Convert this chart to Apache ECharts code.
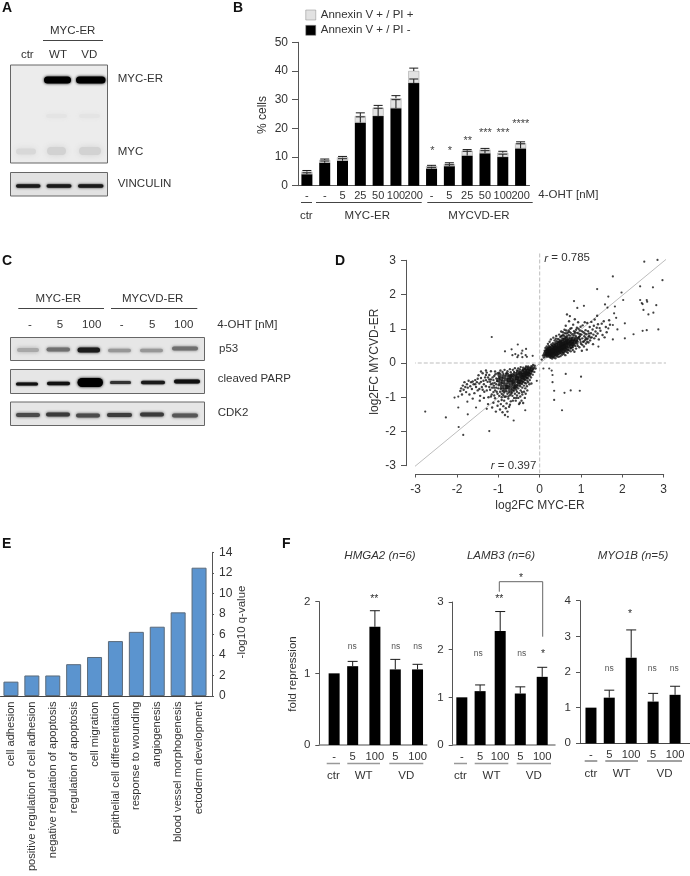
<!DOCTYPE html>
<html><head><meta charset="utf-8">
<style>html,body{margin:0;padding:0;background:#fff}#c{width:690px;height:876px}</style>
<script src="https://cdn.jsdelivr.net/npm/echarts@6/dist/echarts.min.js"></script>
</head><body><div id="c"></div>
<script>
// ---- Panel B data
const bCategories = ['-','-','5','25','50','100','200','-','5','25','50','100','200'];
const bEarly = [4,8,8.7,22,24.3,27,35.8,6,6.8,10.5,11.3,10,13];
const bLate = [0.9,1,1.2,2.3,2.9,3.5,4.2,0.8,0.8,1.7,1.3,1.5,1.8];
const bEarlyErr = [0.5,0.6,0.7,2,2.7,3,1.4,0.4,0.5,1.5,0.9,1,1.6];
const bLateErr = [0.4,0.3,0.3,1.1,0.8,0.9,1,0.3,0.4,0.4,0.4,0.5,0.5];
// ---- Panel E data
const eTerms = ['cell adhesion','positive regulation of cell adhesion','negative regulation of apoptosis','regulation of apoptosis','cell migration','epithelial cell differentiation','response to wounding','angiogenesis','blood vessel morphogenesis','ectoderm development'];
const eValues = [1.4,2.0,2.0,3.1,3.8,5.35,6.25,6.75,8.15,12.5];
// ---- Panel F data
const fLabels = ['-','5','100','5','100'];
const hmga2 = [1,1.1,1.65,1.055,1.055];
const hmga2Top = [1,1.167,1.874,1.195,1.126];
const lamb3 = [1,1.13,2.39,1.08,1.43];
const lamb3Top = [1,1.26,2.8,1.22,1.63];
const myo1b = [1,1.28,2.4,1.17,1.36];
const myo1bTop = [1,1.49,3.18,1.4,1.6];
// ---- Panel D data
const scatterSparse = [[2.85,3.01],[2.53,2.96],[2.97,2.42],[1.77,2.53],[1.39,2.16],[2.43,2.24],[2.74,2.21],[1.98,2.06],[1.66,1.94],[.83,1.81],[1.07,1.67],[.91,1.61],[1.58,1.71],[2.02,1.84],[2.43,1.84],[2.47,1.75],[2.59,1.84],[2.6,1.79],[2.49,1.72],[2.82,1.69],[2.51,1.55],[2.75,1.47],[2.63,1.42],[1.64,1.62],[1.82,1.65],[1.8,1.45],[1.85,1.32],[2.06,1.16],[1.77,1.11],[1.88,.98],[2.49,.94],[2.59,.96],[2.87,.98],[2.27,.84],[2.06,.72],[1.77,.69],[1.42,.48],[1.66,1.01],
[.23,-.16],[.29,-.22],[.31,-.35],[.31,-.56],[.35,-.81],[.35,-1.08],[.54,-1.38],[.6,-.87],[.75,-.8],[.97,-.81],[1,-.4],[.63,-.32],[.09,-.16],[-.07,-.52],
[-1.16,.76],[-.53,.54],[-.84,.34],[-.68,.4],[-.59,.26],[-.66,.23],[-.52,.22],[-.44,.28],[-.33,.41],[-.42,.36],[-.34,.23],[-.42,.17],[-.31,.18],[-.17,.21],[-.54,.17],
[-2.77,-1.42],[-2.27,-1.59],[-1.96,-1.87],[-1.85,-2.1],[-1.22,-1.99],[-2.06,-1.01],[-1.97,-.98],[-1.97,-1.3],[-1.75,-1.13],[-1.74,-1.5],[-1.54,-1.3],[-1.28,-1.34],[-.63,-1.68],[-.77,-1.57],[-.35,-1.38]];
const scatterUpperOuter = [[.05,.1],[.1,.16],[.08,.22],[.12,.36],[.14,.44],[.17,.48],[.2,.56],[.24,.62],[.26,.15],[.3,.13],[.34,.16],[.38,.14],[.27,.69],[.33,.74],[.36,.66],[.4,.79],[.42,.19],[.46,.18],[.5,.2],[.44,.7],[.47,.83],[.5,.76],[.52,.92],[.54,.24],[.58,.26],[.62,.23],[.57,.82],[.6,.97],[.63,1.09],[.65,.86],[.66,1.42],[.68,.3],[.71,1.22],[.72,.91],[.73,1.37],[.75,.34],[.77,1.02],[.79,.84],[.8,.38],[.81,1.12],[.83,.93],[.84,.33],[.85,1.28],[.87,.79],[.88,.42],[.9,1.03],[.91,.88],[.92,.5],[.93,1.19],[.95,.76],[.96,.46],[.97,.95],[.98,.68],[.99,1.06],[1,.56],[1.01,.83],[1.02,.36],[1.03,.72],[1.04,1.1],[1.05,.62],[1.06,.9],[1.07,.48],[1.08,.78],[1.09,1.19],[1.1,.67],[1.11,.96],[1.12,.57],[1.13,.84],[1.14,.39],[1.15,1.17],[1.16,.71],[1.17,.93],[1.18,.6],[1.2,.79],[1.21,1.05],[1.22,.66],[1.24,.87],[1.25,1.2],[1.26,.75],[1.28,.98],[1.29,.55],[1.3,.83],[1.31,1.09],[1.32,.72],[1.33,1.27],[1.35,.92],[1.36,.79],[1.38,1.03],[1.39,1.38],[1.4,.86],[1.41,1.13],[1.43,.69],[1.45,1.02],[1.47,.94],[1.5,1.15],[1.52,.82],[1.55,1.22],[1.57,.75],[1.6,1.05],[1.62,.9],[1.68,1.25],[1.7,1.12],[.7,.95],[.74,.8],[.78,.74],[.82,.8],[.86,.9],[.9,.66],[.94,.86],[.98,.84],[.66,.78],[.7,.82],[.6,.78],[.55,.72],[.45,.62],[.38,.6],[.32,.58],[.28,.54],[.22,.5],[.18,.42],[.92,.62],[.96,.7],[.86,.5],[.8,.46],[.74,.42],[.68,.38],[.62,.35],[.56,.3],[.5,.28],[.44,.25],[.38,.22],[.32,.18],[.27,.19],
[.41,.64],[.48,.68],[.53,.66],[.58,.71],[.63,.75],[.67,.69],[.72,.74],[.77,.68],[.83,.66],[.89,.75],[.93,.73],[.99,.61],[1.03,.53],[1.07,.63],[1.11,.74],[1.15,.62],[1.19,.86],[1.23,.74],[.87,.6],[.91,.56],[.81,.52],[.76,.44],[.71,.37],[.65,.33],[.59,.31],[.54,.8],[.49,.63],[.43,.57],[.36,.54],[.3,.51],[.25,.47],[.21,.44],[.16,.38],[.61,.87],[.68,.89],[.75,.88],[.84,.86],[.97,.78],[1.02,.93],[1.09,.86],[1.13,.7],[1.18,.77],[.52,.78],[.39,.71],[.34,.47],[.56,.9],[.64,.95],[.74,1.0],[.88,.97],[.94,1.0]];
const scatterUpperCore = [[.13,.27],[.15,.22],[.16,.33],[.18,.27],[.19,.36],[.2,.22],[.21,.31],[.22,.41],[.23,.26],[.24,.35],[.25,.21],[.26,.3],[.27,.41],[.28,.25],[.29,.36],[.3,.46],[.31,.29],[.32,.22],[.33,.39],[.34,.33],[.35,.5],[.36,.25],[.37,.43],[.38,.3],[.39,.37],[.4,.53],[.41,.26],[.42,.46],[.43,.34],[.44,.4],[.45,.57],[.46,.3],[.47,.49],[.48,.37],[.49,.44],[.5,.6],[.51,.33],[.52,.52],[.53,.41],[.54,.47],[.55,.63],[.56,.36],[.57,.55],[.58,.44],[.59,.5],[.6,.67],[.61,.4],[.62,.58],[.63,.47],[.64,.53],[.65,.7],[.66,.43],[.68,.6],[.7,.5],[.72,.56],[.74,.68],[.76,.49],[.78,.62],[.8,.55],[.82,.7],[.85,.6],[.88,.68],[.27,.33],[.35,.38],[.42,.38],[.5,.45],[.57,.48],[.64,.6],[.7,.63],[.76,.6],[.31,.37],[.38,.45],[.46,.42],[.53,.56]];
const scatterLowerOuter = [[-.12,-.08],[-.1,-.16],[-.14,-.14],[-.16,-.06],[-.18,-.12],[-.2,-.09],[-.13,-.26],[-.17,-.34],[-.21,-.42],[-.24,-.5],[-.28,-.56],[-.25,-.62],[-.31,-.68],[-.2,-.6],[-.35,-.74],[-.3,-.8],[-.38,-.84],[-.34,-.9],[-.42,-.92],[-.36,-1.02],[-.44,-1.1],[-.4,-1.17],[-.48,-1.16],[-.52,-1.02],[-.5,-1.2],[-.55,-.95],[-.58,-1.1],[-.62,-1.02],[-.66,-.96],[-.7,-1.12],[-.72,-1.22],[-.74,-1.28],[-.76,-1.04],[-.78,-1.42],[-.8,-1.18],[-.82,-1.32],[-.84,-1.52],[-.86,-1.1],[-.88,-1.26],[-.9,-1.44],[-.92,-1.0],[-.94,-1.2],[-.96,-1.36],[-.98,-.96],[-1,-1.12],[-1.02,-1.25],[-1.04,-.84],[-1.06,-1.42],[-1.08,-1.03],[-1.1,-.72],[-1.12,-1.16],[-1.14,-.6],[-1.16,-.92],[-1.18,-.48],[-1.2,-.78],[-1.22,-.35],[-1.24,-1.0],[-1.26,-.55],[-1.28,-.28],[-1.3,-.68],[-1.32,-.42],[-1.34,-.84],[-1.36,-.52],[-1.38,-.3],[-1.4,-.7],[-1.42,-.44],[-1.44,-.96],[-1.46,-.6],[-1.48,-.36],[-1.5,-.8],[-1.52,-.56],[-1.54,-.7],[-1.56,-.5],[-1.58,-.88],[-1.6,-.62],[-1.62,-1.04],[-1.64,-.76],[-1.66,-.56],[-1.68,-.68],[-1.7,-.92],[-1.72,-.52],[-1.74,-.72],[-1.76,-.62],[-1.78,-.85],[-1.8,-.7],[-1.82,-.56],[-1.84,-.78],[-1.86,-.66],[-1.88,-.92],[-1.9,-.74],[-1.92,-.82],[-1.45,-1.1],[-1.35,-1.02],[-1.25,-1.2],[-1.15,-1.3],[-1.42,-.25],[-1.3,-.22],[-1.18,-.24],[-1.08,-.25],[-1.02,-.3],[-.95,-.22],[-.9,-.26],[-.85,-.2],[-.78,-.24],[-.72,-.18],[-.65,-.2],[-.6,-.15],[-.52,-.16],[-.46,-.12],[-.4,-.14],[-.33,-.1],[-.28,-.1],[-.22,-.14],[-1.05,-.45],[-1.1,-.38],[-1.12,-.5],[-1.15,-.72],[-1.18,-.62],[-1.05,-.62],[-1.08,-.8],[-1.0,-.74],[-1.02,-.9],[-.96,-.84],[-.92,-.9],[-.88,-.94],[-.82,-.98],[-.78,-.9],[-.72,-.94],[-.67,-.86],[-.6,-.9],[-.55,-.84],[-.5,-.88],[-.46,-.8],[-.42,-.72],[-.38,-.66],[-.33,-.6],[-.28,-.45],[-.24,-.38],[-.3,-.52],[-.36,-.58],[-1.25,-.42],[-1.2,-.55],[-1.3,-.5],
[-1.07,-.33],[-1.14,-.42],[-1.03,-.53],[-1.09,-.58],[-1.11,-.66],[-1.05,-.72],[-.99,-.65],[-.98,-.42],[-.94,-.76],[-.9,-.82],[-.86,-.86],[-.8,-.83],[-.74,-.86],[-.69,-.9],[-.63,-.82],[-.57,-.78],[-.52,-.74],[-.47,-.68],[-.43,-.61],[-.4,-.56],[-.35,-.5],[-.31,-.44],[-.26,-.3],[-.22,-.32],[-.18,-.24],[-.16,-.18],[-1.35,-.62],[-1.42,-.55],[-1.5,-.46],[-1.56,-.62],[-1.62,-.54],[-1.3,-.35],[-1.22,-.48],[-1.22,-.7],[-1.28,-.8],[-1.38,-.78],[-1.46,-.76],[-1.12,-.85],[-1.18,-.98],[-1.1,-.95],[-.92,-1.08],[-.85,-.99],[-.76,-.98],[-.65,-1.1],[-.57,-1.02],[-.47,-.98],[-.43,-.85],[-.98,-.28],[-.88,-.32],[-.8,-.3],[-.7,-.27],[-.62,-.26],[-.55,-.22],[-.48,-.19],[-.41,-.2],[-.36,-.17]];
const scatterLowerCore = [[-.2,-.2],[-.23,-.26],[-.25,-.17],[-.27,-.32],[-.29,-.23],[-.31,-.38],[-.32,-.17],[-.34,-.29],[-.36,-.44],[-.37,-.22],[-.39,-.35],[-.41,-.5],[-.42,-.26],[-.44,-.4],[-.46,-.55],[-.47,-.3],[-.49,-.46],[-.51,-.62],[-.52,-.27],[-.54,-.38],[-.56,-.52],[-.57,-.68],[-.59,-.33],[-.61,-.45],[-.63,-.6],[-.64,-.75],[-.66,-.36],[-.68,-.5],[-.7,-.66],[-.71,-.8],[-.73,-.42],[-.75,-.57],[-.77,-.71],[-.79,-.34],[-.81,-.48],[-.83,-.63],[-.85,-.78],[-.87,-.4],[-.89,-.55],[-.91,-.7],[-.93,-.46],[-.95,-.6],[-.97,-.35],[-1,-.5],[-.35,-.33],[-.45,-.35],[-.55,-.44],[-.65,-.55],[-.75,-.5],[-.6,-.7],[-.5,-.55],[-.4,-.42],[-.3,-.3],[-.7,-.38],[-.8,-.7]];

const FONT = '"Liberation Sans", Arial, sans-serif';
const TXT = '#333';
const AX = '#555';

// ---- graphic helpers (labels, brackets, blot bands)
const G = [];
function txt(x, y, text, o = {}) {
  G.push({ type: 'text', x, y, rotation: o.rot || 0, silent: true, z: 20,
    style: { text, x: 0, y: 0, fill: o.color || TXT, font: `${o.style||'normal'} ${o.weight||'normal'} ${o.size||11.5}px ${FONT}`,
      align: o.align || 'left', verticalAlign: 'middle', rich: o.rich } });
}
function line(x1, y1, x2, y2, color = '#444', w = 1) {
  G.push({ type: 'line', silent: true, z: 20, shape: { x1, y1, x2, y2 }, style: { stroke: color, lineWidth: w } });
}
function box(x, y, w, h, fill) {
  G.push({ type: 'rect', silent: true, z: 5, shape: { x, y, width: w, height: h }, style: { fill, stroke: '#666', lineWidth: 1 } });
}
function band(x1, x2, y, h, color, blur) {
  G.push({ type: 'rect', silent: true, z: 6, shape: { x: x1, y: y - h / 2, width: x2 - x1, height: h, r: h / 2 },
    style: { fill: color, shadowBlur: blur, shadowColor: color } });
}
function star(x, y, text, size = 11, color = '#444') { txt(x, y, text, { align: 'center', size, color }); }

// panel letters
[['A',2,8],['B',233,8],['C',2,261],['D',335,261],['E',2,544],['F',282,544]].forEach(l => txt(l[1], l[2], l[0], { weight: 'bold', size: 14, color: '#111' }));

// Panel A
txt(72.7, 31, 'MYC-ER', { align: 'center' }); line(43, 40.5, 103, 40.5);
txt(27.3, 55, 'ctr', { align: 'center' }); txt(58, 55, 'WT', { align: 'center' }); txt(89.3, 55, 'VD', { align: 'center' });
box(10.5, 65, 97, 98, '#ececec');
band(44, 71, 80, 7, '#000', 3); band(76, 105.5, 80, 7, '#000', 3);
band(16, 36, 151.5, 6, '#d8d8d8', 6); band(47, 66, 151, 8, '#d2d2d2', 6); band(79, 101, 151, 8, '#d2d2d2', 6);
band(46, 67, 116, 4, '#e4e4e4', 5); band(79, 100, 116, 4, '#e4e4e4', 5);
box(10.5, 172.5, 97, 23.5, '#e2e2e2');
band(16, 40.5, 186, 3.5, '#1a1a1a', 2.5); band(46.5, 71.5, 186, 3.5, '#1a1a1a', 2.5); band(78, 103.5, 186, 3.5, '#1a1a1a', 2.5);
txt(117.7, 78.7, 'MYC-ER'); txt(117.7, 151.7, 'MYC'); txt(117.7, 184, 'VINCULIN');

// Panel B annotations
txt(538.3, 195, '4-OHT [nM]');
line(301, 202.5, 312, 202.5); line(316, 202.5, 421.7, 202.5); line(427.3, 202.5, 532.7, 202.5);
txt(306.3, 215.7, 'ctr', { align: 'center' }); txt(367.3, 215.7, 'MYC-ER', { align: 'center' }); txt(479, 215.7, 'MYCVD-ER', { align: 'center' });
txt(262.3, 115, '% cells', { align: 'center', rot: Math.PI / 2, size: 12 });
[[432.3,151,'*'],[450,151,'*'],[467.7,141,'**'],[485.3,132.5,'***'],[503,132.5,'***'],[520.7,124,'****']].forEach(s => star(s[0], s[1], s[2]));

// Panel C
txt(58.3, 299.3, 'MYC-ER', { align: 'center' }); line(18.3, 308.5, 104, 308.5);
txt(152.7, 299.3, 'MYCVD-ER', { align: 'center' }); line(111, 308.5, 197.3, 308.5);
[[30,'-'],[60,'5'],[91.7,'100'],[121.7,'-'],[152.3,'5'],[183.7,'100']].forEach(l => txt(l[0], 325, l[1], { align: 'center' }));
txt(217.3, 325, '4-OHT [nM]');
box(10.5, 337.5, 194, 23, '#e6e6e6');
band(17, 39, 350, 4, '#a8a8a8', 4); band(46.5, 70, 349.5, 4, '#707070', 3); band(77.5, 100, 350, 5, '#1a1a1a', 3);
band(108, 131, 350.5, 3.5, '#979797', 3); band(140, 163, 350.5, 3.5, '#979797', 3); band(172, 198, 348.5, 4, '#707070', 3);
box(10.5, 369.5, 194, 24, '#e6e6e6');
band(16, 38, 384, 3, '#111', 2); band(47, 70, 383.5, 3.5, '#111', 2); band(77.5, 103, 382.5, 9, '#000', 3);
band(110, 131, 382.5, 3, '#333', 2); band(141, 165, 382.5, 3.5, '#1a1a1a', 2); band(174, 200, 381.5, 4, '#111', 2);
box(10.5, 402, 194, 23.5, '#e6e6e6');
[[16,40,415,'#4a4a4a'],[46,70,414.5,'#3a3a3a'],[76,100,415.5,'#4a4a4a'],[107,132,415,'#3c3c3c'],[140,164,414.5,'#3a3a3a'],[172,198,415.5,'#555']].forEach(b => band(b[0], b[1], b[2], 4, b[3], 3));
txt(219, 348.7, 'p53'); txt(217.7, 379.3, 'cleaved PARP'); txt(217.7, 412.7, 'CDK2');

// Panel D annotations
const rRich = { i: { fontStyle: 'italic', font: `italic 11.5px ${FONT}`, fill: TXT } };
txt(544.3, 258.3, '{i|r} = 0.785', { rich: rRich });
txt(490.7, 466, '{i|r} = 0.397', { rich: rRich });
txt(540, 506, 'log2FC MYC-ER', { align: 'center', size: 12 });
txt(375, 361.7, 'log2FC MYCVD-ER', { align: 'center', rot: Math.PI / 2, size: 12 });

// Panel E annotations
txt(241.7, 622, '-log10 q-value', { align: 'center', rot: Math.PI / 2 });
line(209.5, 696.5, 212.5, 696.5, AX);

// Panel F annotations
[[380,'HMGA2 (n=6)'],[501,'LAMB3 (n=6)'],[633,'MYO1B (n=5)']].forEach(t => txt(t[0], 555.3, t[1], { align: 'center', style: 'italic' }));
txt(293.3, 674, 'fold repression', { align: 'center', rot: Math.PI / 2 });
function fUnder(x0, y1, y2, c, w) {
  line(x0[0], y1, x0[1], y1, c, w); line(x0[2], y1, x0[3], y1, c, w); line(x0[4], y1, x0[5], y1, c, w);
  txt((x0[0] + x0[1]) / 2, y2, 'ctr', { align: 'center' }); txt((x0[2] + x0[3]) / 2, y2, 'WT', { align: 'center' }); txt((x0[4] + x0[5]) / 2, y2, 'VD', { align: 'center' });
}
fUnder([326.7,340, 347.3,380, 389.3,423.3], 763.5, 776, '#999', 1.5);
fUnder([454,467, 474.7,508.3, 516.7,551], 763.5, 776, '#999', 1.5);
fUnder([584.7,597.3, 605.3,638, 647,682], 761, 773.5, '#444', 1);
[[352.3,647,'ns'],[395.7,647,'ns'],[417.7,647,'ns'],[478.3,654,'ns'],[521.7,654,'ns'],[609.3,668.3,'ns'],[652.3,668.3,'ns'],[674.3,668.3,'ns']].forEach(s => star(s[0], s[1], s[2], 8.5, '#555'));
[[374.3,599.5,'**'],[499.3,599.5,'**'],[543,654,'*'],[521,578,'*'],[630,614.5,'*']].forEach(s => star(s[0], s[1], s[2], 10.5, '#333'));
G.push({ type: 'polyline', silent: true, z: 20, shape: { points: [[499.3,591.7],[499.3,581.7],[542.7,581.7],[542.7,636.7]] }, style: { stroke: '#666', lineWidth: 1, fill: 'none' } });

// ---- shared builders
const tickStyle = (c = AX) => ({ lineStyle: { color: c, width: 1 } });
function valueAxis(gridIndex, min, max, interval, extra = {}) {
  return Object.assign({ type: 'value', gridIndex, min, max, interval, splitLine: { show: false },
    axisLine: Object.assign({ show: true, onZero: false }, tickStyle()),
    axisTick: Object.assign({ show: true, length: 4 }, tickStyle()),
    axisLabel: { color: TXT, fontFamily: FONT, fontSize: 12, margin: 5 } }, extra);
}
function errorSeries(xAxisIndex, yAxisIndex, rows, cap) {
  return { type: 'custom', xAxisIndex, yAxisIndex, clip: false, z: 5, silent: true, data: rows,
    encode: { x: 0, y: [1, 2] },
    renderItem(params, api) {
      const a = api.coord([api.value(0), api.value(1)]);
      const b = api.coord([api.value(0), api.value(2)]);
      const st = { stroke: '#1a1a1a', lineWidth: 1 };
      return { type: 'group', children: [
        { type: 'line', shape: { x1: a[0], y1: a[1], x2: b[0], y2: b[1] }, style: st },
        { type: 'line', shape: { x1: b[0] - cap, y1: b[1], x2: b[0] + cap, y2: b[1] }, style: st } ] };
    } };
}
// Panel F: unevenly spaced bars sit in slots of a fine category axis
function slotNames(count, slots) {
  const names = new Array(count).fill('');
  slots.forEach((s, i) => { names[s] = fLabels[i]; });
  return names;
}
const panelF = [
  { name: 'HMGA2', vals: hmga2, tops: hmga2Top, max: 2, interval: 1, grid: { left: 319.3, top: 601.7, width: 107.5, height: 143.3 }, slots: [8,18,30,41,53], count: 59, axisColor: '#888', axisW: 1.5 },
  { name: 'LAMB3', vals: lamb3, tops: lamb3Top, max: 3, interval: 1, grid: { left: 452.7, top: 602, width: 102.3, height: 143 }, slots: [5,15,26,37,49], count: 57, axisColor: '#888', axisW: 1.5 },
  { name: 'MYO1B', vals: myo1b, tops: myo1bTop, max: 4, interval: 1, grid: { left: 580, top: 600.7, width: 109.7, height: 142.6 }, slots: [6,16,28,40,52], count: 61, axisColor: '#444', axisW: 1 },
];

const grids = [
  { left: 298, top: 42.3, width: 231.5, height: 143.4 },   // B
  { left: 415.7, top: 260.3, width: 248, height: 205.4 },  // D
  { left: 0.5, top: 552.3, width: 209, height: 143.7 },    // E
].concat(panelF.map(p => p.grid)).map(g => Object.assign({ outerBoundsMode: 'none', containLabel: false }, g));

const xAxes = [
  { type: 'category', gridIndex: 0, data: bCategories, axisTick: { show: false }, axisLine: { onZero: false, lineStyle: { color: AX } },
    axisLabel: { interval: 0, color: TXT, fontFamily: FONT, fontSize: 11, margin: 5 } },
  valueAxis(1, -3, 3, 1, { offset: 8.3, axisTick: Object.assign({ show: true, length: 3.5 }, tickStyle()), axisLabel: { color: TXT, fontFamily: FONT, fontSize: 12, margin: 9.5 } }),
  { type: 'category', gridIndex: 2, data: eTerms, axisTick: { show: false }, axisLine: { onZero: false, lineStyle: { color: '#444' } },
    axisLabel: { interval: 0, rotate: 90, color: TXT, fontFamily: FONT, fontSize: 11.1, margin: 5.5 } },
].concat(panelF.map((p, i) => ({ type: 'category', gridIndex: 3 + i, boundaryGap: false, data: slotNames(p.count, p.slots),
  axisTick: { show: false }, axisLine: { onZero: false, lineStyle: { color: p.axisColor, width: p.axisW } },
  axisLabel: { interval: 0, color: TXT, fontFamily: FONT, fontSize: 11.2, margin: 6, hideOverlap: false } })));

const yAxes = [
  valueAxis(0, 0, 50, 10, { axisTick: Object.assign({ show: true, length: 6 }, tickStyle()), axisLabel: { color: TXT, fontFamily: FONT, fontSize: 12, margin: 10 } }),
  valueAxis(1, -3, 3, 1, { offset: 9.7, axisTick: Object.assign({ show: true, length: 5 }, tickStyle()), axisLabel: { color: TXT, fontFamily: FONT, fontSize: 12, margin: 10 } }),
  valueAxis(2, 0, 14, 2, { position: 'right', offset: 2.5, axisTick: Object.assign({ show: true, length: 2 }, tickStyle()), axisLabel: { color: TXT, fontFamily: FONT, fontSize: 12, margin: 7 } }),
].concat(panelF.map((p, i) => valueAxis(3 + i, 0, p.max, p.interval, { axisLabel: { color: TXT, fontFamily: FONT, fontSize: 11.5, margin: 9 } })));

const scatter = (data, size, name) => ({ type: 'scatter', name, xAxisIndex: 1, yAxisIndex: 1, clip: false, silent: true, z: 4,
  symbolSize: size, data, itemStyle: { color: '#111' } });
const guide = (data, dash, z) => ({ type: 'line', xAxisIndex: 1, yAxisIndex: 1, clip: false, silent: true, z, symbol: 'none', data,
  lineStyle: { color: '#bdbdbd', width: 1, type: dash } });

const series = [
  { type: 'bar', name: 'Annexin V + / PI -', stack: 'b', xAxisIndex: 0, yAxisIndex: 0, barWidth: 11, data: bEarly, itemStyle: { color: '#000' }, silent: true },
  { type: 'bar', name: 'Annexin V + / PI +', stack: 'b', xAxisIndex: 0, yAxisIndex: 0, barWidth: 11, data: bLate, itemStyle: { color: '#e2e2e2', borderColor: '#999', borderWidth: 0.5 }, silent: true },
  errorSeries(0, 0, bEarly.map((v, i) => [i, v, v + bEarlyErr[i]]), 4.5),
  errorSeries(0, 0, bEarly.map((v, i) => [i, v + bLate[i], v + bLate[i] + bLateErr[i]]), 4.5),
  guide([[-3.24,-3.24],[3.26,3.23]], 'solid', 2),
  guide([[-3.24,0],[3.3,0]], 'dashed', 2),
  guide([[0,3.2],[0,-3.22]], 'dashed', 2),
  scatter(scatterSparse, 2.2, 'sparse'),
  scatter(scatterUpperOuter, 2.4, 'upper'),
  scatter(scatterLowerOuter, 2.4, 'lower'),
  scatter(scatterUpperCore, 4.4, 'upperCore'),
  scatter(scatterLowerCore, 4.6, 'lowerCore'),
  { type: 'bar', xAxisIndex: 2, yAxisIndex: 2, barWidth: 15, data: eValues, silent: true, itemStyle: { color: '#5b94cf', borderColor: '#5a6a7a', borderWidth: 1 } },
];
panelF.forEach((p, i) => {
  series.push({ type: 'bar', name: p.name, xAxisIndex: 3 + i, yAxisIndex: 3 + i, barWidth: 11, silent: true,
    data: p.vals.map((v, k) => [p.slots[k], v]), itemStyle: { color: '#000' } });
  series.push(errorSeries(3 + i, 3 + i, p.vals.map((v, k) => [p.slots[k], v, p.tops[k]]).filter((r, k) => k > 0), 5));
});

const chart = echarts.init(document.getElementById('c'), null, { renderer: 'canvas', width: 690, height: 876 });
chart.setOption({
  animation: false, backgroundColor: '#fff', tooltip: { show: false },
  legend: { left: 305.5, top: 9, orient: 'vertical', icon: 'rect', itemWidth: 10, itemHeight: 10, itemGap: 3.3, selectedMode: false,
    data: ['Annexin V + / PI +', 'Annexin V + / PI -'], textStyle: { color: TXT, fontFamily: FONT, fontSize: 11.5 }, itemStyle: { borderColor: '#888', borderWidth: 0.5 }, padding: 0 },
  grid: grids, xAxis: xAxes, yAxis: yAxes, series, graphic: G,
});
</script></body></html>
